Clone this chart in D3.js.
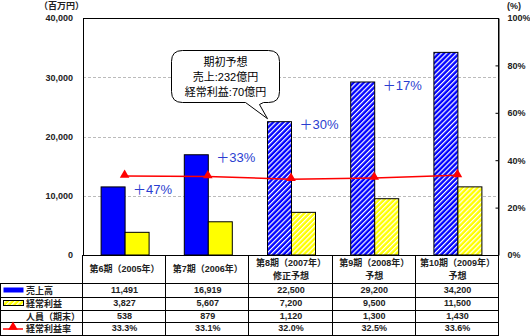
<!DOCTYPE html>
<html><head><meta charset="utf-8">
<script src="https://cdnjs.cloudflare.com/ajax/libs/d3/7.8.5/d3.min.js"></script>
<style>
body{margin:0;background:#fff;}
svg{display:block;}
text{font-family:"Liberation Sans","Noto Sans CJK JP",Arial,sans-serif;}
</style></head><body>
<svg id="c" width="530" height="336"></svg>
<script>
const headLine1 = ["第6期（2005年）","第7期（2006年）","第8期（2007年）","第9期（2008年）","第10期（2009年）"];
const headLine2 = ["","","修正予想","予想","予想"];
const forecast = [false,false,true,true,true];
const sales = [11491,16919,22500,29200,34200];
const profit = [3827,5607,7200,9500,11500];
const staff = [538,879,1120,1300,1430];
const margin = [33.3,33.1,32.0,32.5,33.6];
const growth = ["","＋47%","＋33%","＋30%","＋17%"];
const leftTicks = [0,10000,20000,30000,40000];
const rightTicks = [0,20,40,60,80,100];
const rowLabels = ["売上高","経常利益","人員（期末）","経常利益率"];
const calloutLines = ["期初予想","売上:232億円","経常利益:70億円"];

const svg = d3.select("#c");
const L=83, R=499, T=18, B=255;
const idx = d3.range(sales.length);
const x = d3.scaleBand().domain(idx).range([L,R]);
const y = d3.scaleLinear().domain([0,40000]).range([B,T]);
const y2 = d3.scaleLinear().domain([0,100]).range([B,T]);
const cx = i => x(i)+x.bandwidth()/2;
const bw = 24;

const defs = svg.append("defs");
function hatch(id,color){
  const p = defs.append("pattern").attr("id",id).attr("patternUnits","userSpaceOnUse")
    .attr("width",3.6).attr("height",3.6).attr("patternTransform","rotate(45)");
  p.append("rect").attr("width",3.6).attr("height",3.6).attr("fill",color);
  p.append("rect").attr("width",1.2).attr("height",3.6).attr("fill","#fff");
}
hatch("hb","#0000ff");
hatch("hy","#ffff00");

// gridlines
svg.append("g").selectAll("line").data(leftTicks.filter(t=>t>0&&t<40000)).join("line")
  .attr("x1",L).attr("x2",R).attr("y1",d=>Math.round(y(d))+0.5).attr("y2",d=>Math.round(y(d))+0.5)
  .attr("stroke","#bbb").attr("stroke-dasharray","3,2").attr("stroke-width",1);

// frame
svg.append("rect").attr("x",L+0.5).attr("y",T+0.5).attr("width",R-L-1).attr("height",B-T).attr("fill","none").attr("stroke","#000");

// left axis
const la = svg.append("g").attr("transform",`translate(${L},0)`)
  .call(d3.axisLeft(y).tickValues(leftTicks).tickSize(0).tickPadding(10).tickFormat(d3.format(",")));
la.select(".domain").remove();
la.selectAll("text").attr("font-size",9).attr("font-weight","bold").attr("fill","#222");

// right axis
const ra = svg.append("g").attr("transform",`translate(${R-0.5},0)`)
  .call(d3.axisLeft(y2).tickValues(rightTicks).tickSize(3).tickFormat(d=>d+"%"));
ra.select(".domain").attr("stroke","#000");
ra.selectAll("text").attr("x",9).attr("text-anchor","start").attr("font-size",9).attr("font-weight","bold").attr("fill","#222");

svg.append("text").attr("x",39).attr("y",9).attr("font-size",9).attr("font-weight","bold").attr("fill","#222").text("（百万円）");
svg.append("text").attr("x",507).attr("y",9).attr("font-size",9).attr("font-weight","bold").attr("fill","#222").text("(%)");

// bars
svg.append("g").selectAll("rect").data(idx).join("rect")
  .attr("x",i=>cx(i)-bw+0.5).attr("y",i=>y(sales[i])).attr("width",bw).attr("height",i=>B-y(sales[i]))
  .attr("fill",i=>forecast[i]?"url(#hb)":"#0000ff").attr("stroke","#000").attr("stroke-width",1);
svg.append("g").selectAll("rect").data(idx).join("rect")
  .attr("x",i=>cx(i)+0.5).attr("y",i=>y(profit[i])).attr("width",bw).attr("height",i=>B-y(profit[i]))
  .attr("fill",i=>forecast[i]?"url(#hy)":"#ffff00").attr("stroke","#000").attr("stroke-width",1);

// line
svg.append("path").datum(idx).attr("fill","none").attr("stroke","#ff0000").attr("stroke-width",1.5)
  .attr("d",d3.line().x(i=>cx(i)).y(i=>y2(margin[i])));
const tri = d3.symbol().type(d3.symbolTriangle).size(40);
svg.append("g").selectAll("path").data(idx).join("path")
  .attr("transform",i=>`translate(${cx(i)},${y2(margin[i])-1})`).attr("d",tri).attr("fill","#ff0000");

// growth labels
svg.append("g").selectAll("text").data(idx.filter(i=>growth[i])).join("text")
  .attr("x",i=>cx(i-1)+28).attr("y",i=>y(sales[i-1])+3).attr("dy","0.35em").attr("text-anchor","middle")
  .attr("font-family","'Liberation Serif','Noto Sans CJK JP',serif").attr("font-size",13).attr("fill","#2a3dd0")
  .text(i=>growth[i]);

// callout
const bx=171.5, by=50.5, bw2=108, bh=52, r=11;
const tipX = cx(2)-bw+0.5, tipY = y(sales[2]) - 3;
const pth = d3.path();
pth.moveTo(bx+r,by); pth.lineTo(bx+bw2-r,by); pth.quadraticCurveTo(bx+bw2,by,bx+bw2,by+r);
pth.lineTo(bx+bw2,by+bh-r); pth.quadraticCurveTo(bx+bw2,by+bh,bx+bw2-r,by+bh);
pth.lineTo(bx+92,by+bh); pth.lineTo(bx+88,by+bh+2); pth.lineTo(tipX,tipY); pth.lineTo(bx+74,by+bh);
pth.lineTo(bx+r,by+bh); pth.quadraticCurveTo(bx,by+bh,bx,by+bh-r);
pth.lineTo(bx,by+r); pth.quadraticCurveTo(bx,by,bx+r,by); pth.closePath();
svg.append("path").attr("d",pth.toString()).attr("fill","#fff").attr("stroke","#000").attr("stroke-width",1);
svg.append("g").selectAll("text").data(calloutLines).join("text")
  .attr("x",bx+bw2/2).attr("y",(d,i)=>by+12+i*15).attr("dy","0.35em").attr("text-anchor","middle")
  .attr("font-family","'Liberation Serif','Noto Sans CJK JP',serif").attr("font-size",11).attr("fill","#000")
  .text(d=>d);

// table
const rowY = [B, 283, 296.5, 309.5, 322, 334.5];
const tg = svg.append("g").attr("stroke","#000").attr("stroke-width",1);
for(let k=1;k<rowY.length;k++){
  tg.append("line").attr("x1",0).attr("x2",R).attr("y1",Math.round(rowY[k])+0.5).attr("y2",Math.round(rowY[k])+0.5);
}
const vx = idx.map(i=>x(i)).concat([R]);
vx.forEach(v=>tg.append("line").attr("x1",Math.round(v)-0.5).attr("x2",Math.round(v)-0.5).attr("y1",B).attr("y2",335));
tg.append("line").attr("x1",0.5).attr("x2",0.5).attr("y1",283).attr("y2",335);

const ft = svg.append("g").attr("font-size",9).attr("font-weight","bold").attr("fill","#222").attr("text-anchor","middle");
idx.forEach(i=>{
  if(headLine2[i]){
    ft.append("text").attr("x",cx(i)).attr("y",263).attr("dy","0.35em").text(headLine1[i]);
    ft.append("text").attr("x",cx(i)).attr("y",276).attr("dy","0.35em").text(headLine2[i]);
  } else {
    ft.append("text").attr("x",cx(i)).attr("y",268.5).attr("dy","0.35em").text(headLine1[i]);
  }
});
const rows = [sales.map(d3.format(",")), profit.map(d3.format(",")), staff.map(d3.format(",")), margin.map(d=>d.toFixed(1)+"%")];
rows.forEach((row,k)=>{
  const ym = (rowY[k+1]+rowY[k+2])/2;
  row.forEach((v,i)=>ft.append("text").attr("x",cx(i)).attr("y",ym).attr("dy","0.35em").text(v));
});
// row labels & legend
const lg = svg.append("g").attr("font-size",9).attr("font-weight","bold").attr("fill","#222");
rowLabels.forEach((t,k)=>{
  const ym=(rowY[k+1]+rowY[k+2])/2;
  lg.append("text").attr("x",k===2?26:26).attr("y",ym+1).attr("dy","0.35em").text(t);
});
lg.append("rect").attr("x",3.5).attr("y",287.5).attr("width",20).attr("height",5).attr("fill","#0000ff");
lg.append("rect").attr("x",3.5).attr("y",300.5).attr("width",20).attr("height",5).attr("fill","url(#hy)").attr("stroke","#000");
lg.append("line").attr("x1",3).attr("x2",23).attr("y1",329).attr("y2",329).attr("stroke","#ff0000").attr("stroke-width",1.5);
lg.append("path").attr("transform","translate(13,327)").attr("d",tri).attr("fill","#ff0000");
</script>
</body></html>
